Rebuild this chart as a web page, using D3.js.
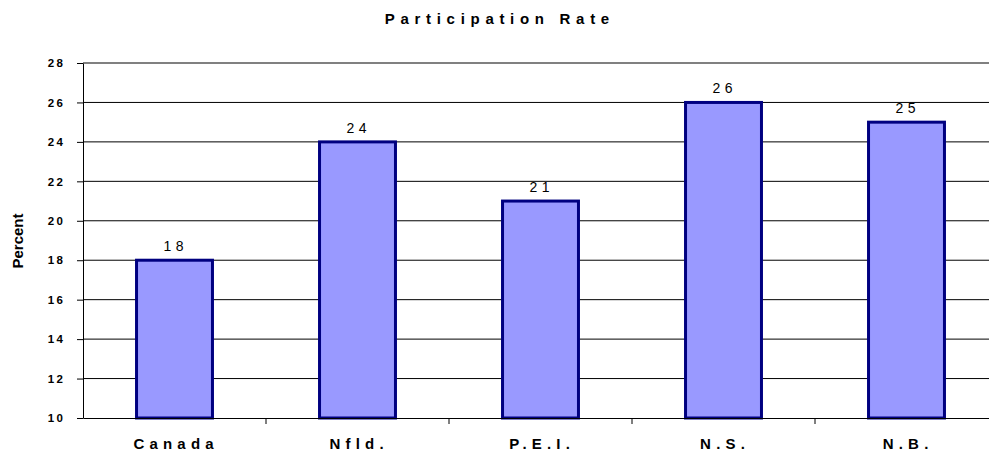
<!DOCTYPE html>
<html>
<head>
<meta charset="utf-8">
<script src="https://cdn.jsdelivr.net/npm/d3@7"></script>
<style>
  body { margin: 0; background: #fff; }
  svg { display: block; font-family: "Liberation Sans", Arial, sans-serif; }
</style>
</head>
<body>
<svg id="chart" width="989" height="453"></svg>
<script>
// Participation rate by region
const categories = ["Canada", "Nfld.", "P.E.I.", "N.S.", "N.B."];
const values = [18, 24, 21, 26, 25];
const yTicks = [10, 12, 14, 16, 18, 20, 22, 24, 26, 28];

const svg = d3.select("#chart");
const plotLeft = 83, plotRight = 998, plotTop = 63, plotBottom = 418;
const font = "'Liberation Sans', Arial, sans-serif";

const x = d3.scaleBand().domain(categories).range([plotLeft, plotRight])
  .paddingInner(0.585).paddingOuter(0.2925);
const y = d3.scaleLinear().domain([10, 28]).range([plotBottom, plotTop]);

// gridlines
svg.append("g").selectAll("line").data(yTicks.filter(d => d > 10)).join("line")
  .attr("x1", plotLeft).attr("x2", 989)
  .attr("y1", d => y(d)).attr("y2", d => y(d))
  .attr("stroke", d => d === 28 ? "#808080" : "#000")
  .attr("stroke-width", d => d === 28 ? 2 : 1);

// y axis
const yTickSpacing = 2.5;
const yAxis = svg.append("g").attr("transform", `translate(${plotLeft},0)`)
  .call(d3.axisLeft(y).tickValues(yTicks).tickSize(6).tickSizeOuter(0).tickPadding(14 - yTickSpacing));
yAxis.select(".domain").attr("stroke", "#000");
yAxis.selectAll(".tick line").attr("stroke", "#000");
yAxis.selectAll("text")
  .attr("font-size", 11.5).attr("font-weight", "bold").attr("fill", "#000")
  .attr("letter-spacing", yTickSpacing + "px").attr("font-family", font);

// bars
svg.append("g").selectAll("rect").data(values).join("rect")
  .attr("x", (d, i) => x(categories[i]))
  .attr("width", x.bandwidth())
  .attr("y", d => y(d))
  .attr("height", d => y(10) - y(d))
  .attr("fill", "#9999FF")
  .attr("stroke", "#000080")
  .attr("stroke-width", 3);

// x axis
const catSpacing = 5.2;
const xAxis = svg.append("g").attr("transform", `translate(0,${plotBottom})`)
  .call(d3.axisBottom(x).tickSize(0).tickSizeOuter(0).tickPadding(20));
xAxis.select(".domain").attr("stroke", "#000");
xAxis.selectAll("text")
  .attr("font-size", 15).attr("font-weight", "bold").attr("fill", "#000")
  .attr("letter-spacing", catSpacing + "px").attr("dx", catSpacing / 2 - 1)
  .attr("font-family", font);

// category separators
const step = x.step();
svg.append("g").selectAll("line").data(d3.range(1, categories.length)).join("line")
  .attr("x1", i => plotLeft + i * step).attr("x2", i => plotLeft + i * step)
  .attr("y1", plotBottom).attr("y2", plotBottom + 6)
  .attr("stroke", "#000");

// value labels
const valSpacing = 4.6;
svg.append("g").selectAll("text").data(values).join("text")
  .attr("x", (d, i) => x(categories[i]) + x.bandwidth() / 2 + valSpacing / 2 - 1)
  .attr("y", d => y(d) - 9)
  .attr("text-anchor", "middle")
  .attr("font-size", 14).attr("letter-spacing", valSpacing + "px")
  .attr("fill", "#000")
  .text(d => d);

// title
svg.append("text").attr("x", 497 + 2.85).attr("y", 24)
  .attr("text-anchor", "middle").attr("font-size", 15).attr("font-weight", "bold")
  .attr("letter-spacing", "5.7px").text("Participation Rate");

// y axis title
svg.append("text").attr("transform", "translate(23,241) rotate(-90)")
  .attr("text-anchor", "middle").attr("font-size", 15).attr("font-weight", "bold")
  .text("Percent");
</script>
</body>
</html>
